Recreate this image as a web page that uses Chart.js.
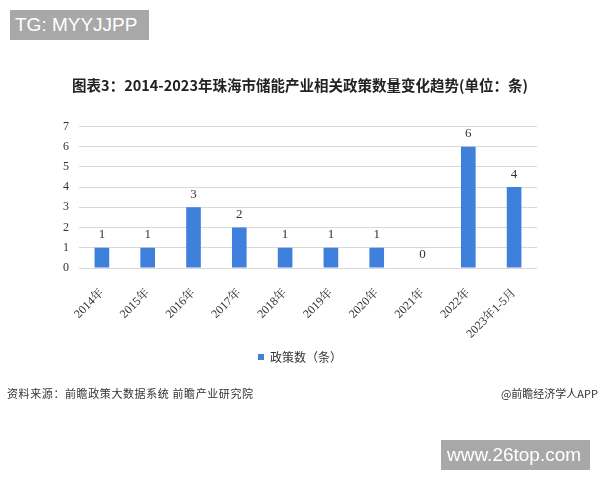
<!DOCTYPE html>
<html>
<head>
<meta charset="utf-8">
<script src="https://cdn.jsdelivr.net/npm/chart.js@4"></script>
<style>
    body { margin: 0; background: #fff; }
    #wrap { position: relative; width: 600px; height: 480px; overflow: hidden; }
    #chart { position: absolute; left: 0; top: 0; }
    .tag { position: absolute; background: #a8a8a8; color: #fff; font-family: "Liberation Sans", Arial, sans-serif; font-size: 19px; line-height: 30px; padding-left: 5px; box-sizing: border-box; }
    .note { position: absolute; top: 385px; font-family: "Noto Sans CJK SC", sans-serif; font-size: 11px; color: #333; white-space: nowrap; }
</style>
</head>
<body>
<div id="wrap">
    <canvas id="chart" width="600" height="480"></canvas>
    <div class="tag" style="left:10px;top:10px;width:139px;height:30px;">TG: MYYJJPP</div>
    <div class="note" style="left:7px;letter-spacing:0.6px;">资料来源：前瞻政策大数据系统 前瞻产业研究院</div>
    <div class="note" style="right:2px;">@前瞻经济学人APP</div>
    <div class="tag" style="left:441px;top:440px;width:149px;height:30px;padding-left:6px;">www.26top.com</div>
</div>
<script>
// chart data
const years = ["2014年", "2015年", "2016年", "2017年", "2018年", "2019年", "2020年", "2021年", "2022年", "2023年1-5月"];
const policyCounts = [1, 1, 3, 2, 1, 1, 1, 0, 6, 4];
const seriesName = "政策数（条）";
const titleText = "图表3：2014-2023年珠海市储能产业相关政策数量变化趋势(单位：条)";

const serif = "'Liberation Serif', 'Noto Serif CJK SC', 'Noto Sans CJK SC', serif";

// value labels above the bars
const valueLabels = {
    id: "valueLabels",
    afterDatasetsDraw(chart) {
        const ctx = chart.ctx;
        const meta = chart.getDatasetMeta(0);
        ctx.save();
        ctx.font = "13px " + serif;
        ctx.fillStyle = "#333";
        ctx.textAlign = "center";
        ctx.textBaseline = "middle";
        meta.data.forEach((bar, i) => {
            ctx.fillText(String(policyCounts[i]), bar.x, bar.y - 13);
        });
        ctx.restore();
    },
};

new Chart(document.getElementById("chart"), {
    type: "bar",
    data: {
        labels: years,
        datasets: [
            {
                label: seriesName,
                data: policyCounts,
                backgroundColor: "#3f80dc",
                barPercentage: 0.32,
                categoryPercentage: 1,
            },
        ],
    },
    options: {
        responsive: false,
        animation: false,
        layout: { padding: { left: 0, right: 0, top: 77, bottom: 107 } },
        scales: {
            x: {
                grid: { display: false },
                border: { display: false },
                ticks: {
                    autoSkip: false,
                    minRotation: 45,
                    maxRotation: 45,
                    padding: 10,
                    color: "#333",
                    font: { family: serif, size: 12 },
                },
                afterFit: (s) => { s.height = 73; },
            },
            y: {
                min: 0,
                max: 7,
                grid: { color: "#d9d9d9", drawTicks: false },
                border: { display: false },
                ticks: {
                    stepSize: 1,
                    padding: 10,
                    color: "#333",
                    font: { family: serif, size: 12 },
                },
                afterFit: (s) => { s.width = 79; },
            },
            // empty right axis, only reserves the right margin
            spacer: {
                type: "linear",
                position: "right",
                grid: { display: false },
                border: { display: false },
                ticks: { display: false },
                afterFit: (s) => { s.width = 63; },
            },
        },
        plugins: {
            title: {
                display: true,
                text: titleText,
                color: "#222",
                font: { family: "'Noto Sans CJK SC', sans-serif", size: 14.5, weight: "bold" },
                padding: { top: 0, bottom: 32 },
            },
            legend: {
                position: "bottom",
                labels: {
                    boxWidth: 6,
                    boxHeight: 6,
                    padding: 10,
                    color: "#333",
                    font: { family: "'Noto Sans CJK SC', sans-serif", size: 12 },
                },
            },
            tooltip: { enabled: false },
        },
    },
    plugins: [valueLabels],
});
</script>
</body>
</html>
